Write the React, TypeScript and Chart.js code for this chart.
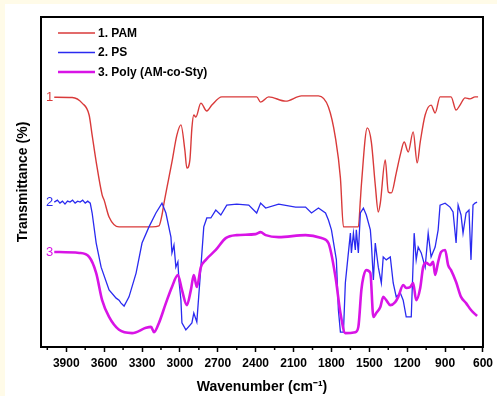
import React, { useEffect, useRef } from "react";
import { Chart, registerables } from "chart.js";

Chart.register(...registerables);

// ---- data (wavenumber in cm^-1, transmittance in arbitrary %) ----
const SERIES_NAMES = ["1. PAM", "2. PS", "3. Poly (AM-co-Sty)"];
const CURVE_LABELS = ["1", "2", "3"];
const X_TICK_LABELS = [3900, 3600, 3300, 3000, 2700, 2400, 2100, 1800, 1500, 1200, 900, 600];

const PAM_WN = [3995, 3853, 3774, 3719, 3695, 3663, 3616, 3600, 3561, 3482, 3221, 3166, 3142, 3126, 3063, 3024, 2992, 2961, 2945, 2921, 2905, 2890, 2874, 2834, 2787, 2747, 2668, 2392, 2361, 2297, 2163, 2037, 1903, 1824, 1768, 1729, 1705, 1587, 1571, 1563, 1516, 1484, 1453, 1429, 1413, 1374, 1350, 1326, 1287, 1255, 1224, 1192, 1153, 1121, 1097, 1058, 1011, 979, 940, 853, 813, 782, 742, 703, 663, 639];
const PAM_T = [75.7, 75.6, 73.9, 70.3, 64.2, 56.1, 46.1, 44.5, 39.4, 36.4, 36.4, 36.7, 40.0, 43.6, 56.1, 64.2, 67.3, 59.7, 54.2, 56.7, 66.4, 70.3, 69.7, 73.9, 71.5, 73.3, 75.8, 75.8, 74.2, 75.8, 74.5, 76.1, 76.1, 72.7, 63.3, 51.2, 36.4, 36.4, 44.5, 49.1, 66.4, 62.1, 49.1, 40.9, 43.6, 56.7, 47.0, 46.7, 52.7, 58.2, 62.1, 59.1, 65.2, 55.8, 62.1, 70.3, 73.3, 70.9, 75.8, 75.8, 71.8, 73.3, 75.5, 75.2, 75.8, 75.8];

const PS_WN = [3995, 3970, 3950, 3930, 3910, 3890, 3870, 3850, 3830, 3810, 3790, 3770, 3750, 3730, 3710, 3695, 3663, 3624, 3561, 3505, 3482, 3466, 3442, 3403, 3347, 3300, 3245, 3190, 3142, 3111, 3071, 3063, 3047, 3032, 3016, 3008, 2992, 2984, 2953, 2905, 2890, 2866, 2834, 2811, 2787, 2755, 2716, 2676, 2629, 2550, 2455, 2392, 2361, 2321, 2218, 2084, 2005, 1958, 1903, 1847, 1824, 1800, 1761, 1745, 1729, 1705, 1690, 1674, 1650, 1642, 1626, 1611, 1603, 1587, 1571, 1547, 1524, 1492, 1484, 1468, 1453, 1429, 1405, 1390, 1366, 1334, 1311, 1287, 1255, 1232, 1208, 1168, 1145, 1129, 1113, 1089, 1058, 1034, 1011, 979, 955, 940, 900, 861, 837, 813, 797, 774, 758, 734, 711, 695, 679, 663, 647];
const PS_T = [43.9, 44.5, 43.6, 44.2, 43.3, 44.2, 43.9, 44.5, 43.6, 44.2, 43.9, 44.5, 43.6, 44.2, 43.6, 40.6, 31.5, 24.2, 17.3, 14.8, 14.2, 13.3, 12.4, 15.2, 22.4, 31.5, 36.4, 40.6, 43.6, 40.6, 33.3, 28.5, 30.9, 24.2, 25.8, 20.3, 14.2, 7.3, 5.2, 7.3, 10.3, 7.6, 24.2, 36.4, 39.1, 39.1, 41.5, 40.0, 43.0, 43.3, 43.0, 40.6, 43.6, 42.1, 43.3, 42.4, 42.4, 40.6, 42.1, 40.6, 38.5, 35.5, 26.4, 11.2, 4.5, 4.5, 19.4, 25.5, 34.5, 28.5, 34.5, 29.4, 35.5, 28.5, 40.6, 42.1, 40.0, 35.5, 31.5, 20.3, 31.5, 24.2, 19.4, 27.3, 26.4, 27.3, 19.4, 15.2, 16.4, 14.2, 9.1, 9.1, 34.5, 26.4, 30.3, 28.5, 24.2, 34.5, 27.3, 30.3, 35.5, 43.0, 43.6, 42.4, 40.9, 31.5, 43.0, 40.0, 34.5, 40.6, 41.5, 26.4, 43.0, 43.6, 43.9];

const POLY_WN = [3995, 3797, 3719, 3663, 3616, 3561, 3482, 3379, 3269, 3229, 3205, 3166, 3111, 3063, 3016, 2984, 2945, 2913, 2890, 2866, 2834, 2795, 2716, 2637, 2550, 2400, 2361, 2321, 2218, 2005, 1879, 1824, 1768, 1729, 1690, 1611, 1587, 1563, 1547, 1524, 1492, 1468, 1445, 1413, 1390, 1366, 1334, 1295, 1271, 1232, 1208, 1176, 1153, 1129, 1097, 1074, 1050, 1018, 995, 979, 955, 932, 900, 876, 853, 813, 774, 734, 695, 647];
const POLY_T = [28.8, 28.5, 27.3, 22.4, 14.2, 9.1, 5.2, 4.2, 5.8, 6.1, 4.5, 7.3, 13.3, 18.2, 21.8, 17.3, 12.7, 17.3, 21.8, 18.2, 24.2, 26.4, 29.4, 33.0, 33.9, 34.2, 34.8, 33.9, 33.3, 33.9, 33.0, 31.5, 21.2, 10.3, 4.2, 4.5, 6.1, 17.3, 21.2, 23.3, 22.4, 9.1, 10.3, 12.1, 15.2, 14.2, 12.7, 13.6, 15.2, 18.8, 17.9, 18.2, 19.4, 14.2, 17.9, 24.2, 25.5, 24.8, 25.8, 21.8, 25.8, 28.8, 29.4, 24.8, 23.3, 19.7, 15.2, 13.3, 11.2, 9.4];

const COLORS = ["#d93a3a", "#2a2af0", "#d814e6"];
const WIDTHS = [1.4, 1.3, 2.6];

const toPoints = (xs: number[], ys: number[]) => xs.map((x, i) => ({ x, y: ys[i] }));

const FONT = "'Liberation Sans', Arial, sans-serif";

const decorPlugin = {
  id: "decor",
  beforeDraw(chart: any) {
    const { ctx, width, height } = chart;
    ctx.save();
    ctx.fillStyle = "#fffbe8";
    ctx.fillRect(0, 0, width, height);
    ctx.fillStyle = "#ffffff";
    ctx.fillRect(5, 4, width - 5, height - 4);
    ctx.restore();
  },
  afterDraw(chart: any) {
    const { ctx, chartArea } = chart;
    const xs = chart.scales.x;
    ctx.save();
    // frame
    ctx.strokeStyle = "#000";
    ctx.lineWidth = 2;
    ctx.strokeRect(chartArea.left, chartArea.top, chartArea.right - chartArea.left, chartArea.bottom - chartArea.top);
    // minor ticks
    ctx.lineWidth = 1.5;
    xs.ticks.forEach((t: any) => {
      if (Math.round(t.value) % 300 !== 0) {
        const px = xs.getPixelForValue(t.value);
        ctx.beginPath();
        ctx.moveTo(px, chartArea.bottom);
        ctx.lineTo(px, chartArea.bottom + 3);
        ctx.stroke();
      }
    });
    // legend
    const lx0 = chartArea.left + 17;
    const lx1 = chartArea.left + 54;
    const ly = [chartArea.top + 16, chartArea.top + 35.5, chartArea.top + 55];
    ctx.font = `bold 12px ${FONT}`;
    ctx.textBaseline = "middle";
    ctx.textAlign = "left";
    SERIES_NAMES.forEach((name, i) => {
      ctx.strokeStyle = COLORS[i];
      ctx.lineWidth = WIDTHS[i];
      ctx.beginPath();
      ctx.moveTo(lx0, ly[i]);
      ctx.lineTo(lx1, ly[i]);
      ctx.stroke();
      ctx.fillStyle = "#000";
      ctx.fillText(name, lx1 + 3, ly[i] + 0.5);
    });
    // curve labels
    ctx.font = `13px ${FONT}`;
    ctx.textAlign = "right";
    const firsts = [
      [PAM_WN[0], PAM_T[0]],
      [PS_WN[0], PS_T[0]],
      [POLY_WN[0], POLY_T[0]],
    ];
    firsts.forEach((p, i) => {
      ctx.fillStyle = COLORS[i];
      ctx.fillText(CURVE_LABELS[i], xs.getPixelForValue(p[0]) - 1, chart.scales.y.getPixelForValue(p[1]) + 0.5);
    });
    ctx.restore();
  },
};

export default function App() {
  const ref = useRef<HTMLCanvasElement>(null);
  useEffect(() => {
    if (!ref.current) return;
    const chart = new Chart(ref.current, {
      type: "line",
      data: {
        datasets: [
          { label: SERIES_NAMES[0], data: toPoints(PAM_WN, PAM_T), borderColor: COLORS[0], borderWidth: WIDTHS[0], pointRadius: 0, cubicInterpolationMode: "monotone", order: 2 },
          { label: SERIES_NAMES[1], data: toPoints(PS_WN, PS_T), borderColor: COLORS[1], borderWidth: WIDTHS[1], pointRadius: 0, tension: 0, order: 1 },
          { label: SERIES_NAMES[2], data: toPoints(POLY_WN, POLY_T), borderColor: COLORS[2], borderWidth: WIDTHS[2], pointRadius: 0, cubicInterpolationMode: "monotone", order: 0 },
        ],
      },
      options: {
        animation: false,
        responsive: false,
        devicePixelRatio: 1,
        layout: { padding: { left: 5, top: 17, right: 12, bottom: 0 } },
        plugins: { legend: { display: false }, tooltip: { enabled: false } },
        scales: {
          x: {
            type: "linear",
            reverse: true,
            min: 600,
            max: 4100,
            afterFit: (s: any) => { s.height = 49; },
            border: { display: false },
            grid: {
              display: true,
              drawOnChartArea: false,
              drawTicks: true,
              tickLength: 5,
              tickWidth: 1.5,
              tickColor: (c: any) => (Math.round(c.tick.value) % 300 === 0 ? "#000" : "rgba(0,0,0,0)"),
            },
            ticks: {
              stepSize: 150,
              includeBounds: false,
              autoSkip: false,
              maxRotation: 0,
              padding: 4,
              color: "#000",
              font: { family: FONT, size: 12, weight: "bold" },
              callback: (v: any) => {
                const n = Math.round(Number(v));
                return X_TICK_LABELS.includes(n) ? String(n) : "";
              },
            },
            title: {
              display: true,
              text: "Wavenumber (cm⁻¹)",
              color: "#000",
              padding: { top: 2, bottom: 0 },
              font: { family: FONT, size: 14, weight: "bold" },
            },
          },
          y: {
            min: 0,
            max: 100,
            afterFit: (s: any) => { s.width = 36; },
            border: { display: false },
            grid: { display: false },
            ticks: { display: false },
            title: {
              display: true,
              text: "Transmittance (%)",
              color: "#000",
              padding: { top: 10, bottom: 0 },
              font: { family: FONT, size: 14, weight: "bold" },
            },
          },
        },
      },
      plugins: [decorPlugin],
    } as any);
    return () => chart.destroy();
  }, []);
  return (
    <div style={{ position: "fixed", left: 0, top: 0, width: 497, height: 396 }}>
      <canvas ref={ref} width={497} height={396} style={{ display: "block", width: 497, height: 396 }} />
    </div>
  );
}
